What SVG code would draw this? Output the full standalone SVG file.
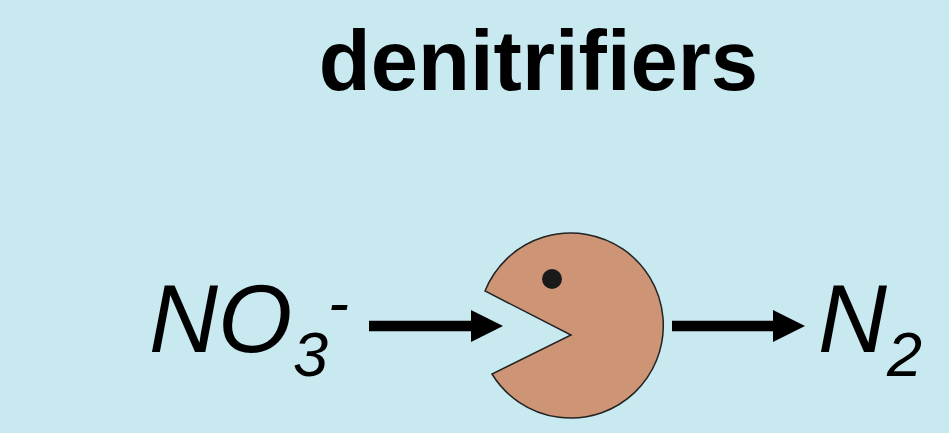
<svg xmlns="http://www.w3.org/2000/svg" width="949" height="433" viewBox="0 0 949 433">
<style>
text{font-family:"Liberation Sans",Arial,sans-serif;fill:#000}
.f{font-size:95.5px;font-style:italic}
.s{font-size:63px;font-style:italic}
.c{stroke:#000;stroke-width:10.5;fill:none}
</style>
<defs><marker id="a" markerUnits="userSpaceOnUse" markerWidth="32" markerHeight="32" refX="4" refY="16" orient="auto"><path d="M0 0L32 16L0 32z" fill="#000"/></marker></defs>
<rect width="949" height="433" fill="#c8e9ef"/>
<text id="title" x="538.5" y="90" text-anchor="middle" font-size="85" font-weight="bold">denitrifiers</text>
<g id="connectors">
<path class="c" d="M369 326H475" marker-end="url(#a)"/>
<path class="c" d="M672 326H777" marker-end="url(#a)"/>
</g>
<g id="no3"><text class="f" x="149" y="352">NO</text><text class="s" x="293" y="376">3</text><text class="s" x="328" y="324">-</text></g>
<g id="denitrifier">
<path d="M485 291A92.5 92.5 0 1 1 492 374L571 335L485 291z" fill="#cd9576" stroke="#222" stroke-width="1.5"/>
<circle cx="552" cy="279" r="10" fill="#1a1a1a"/>
</g>
<g id="n2"><text class="f" x="818" y="352">N</text><text class="s" x="887" y="376">2</text></g>
</svg>
